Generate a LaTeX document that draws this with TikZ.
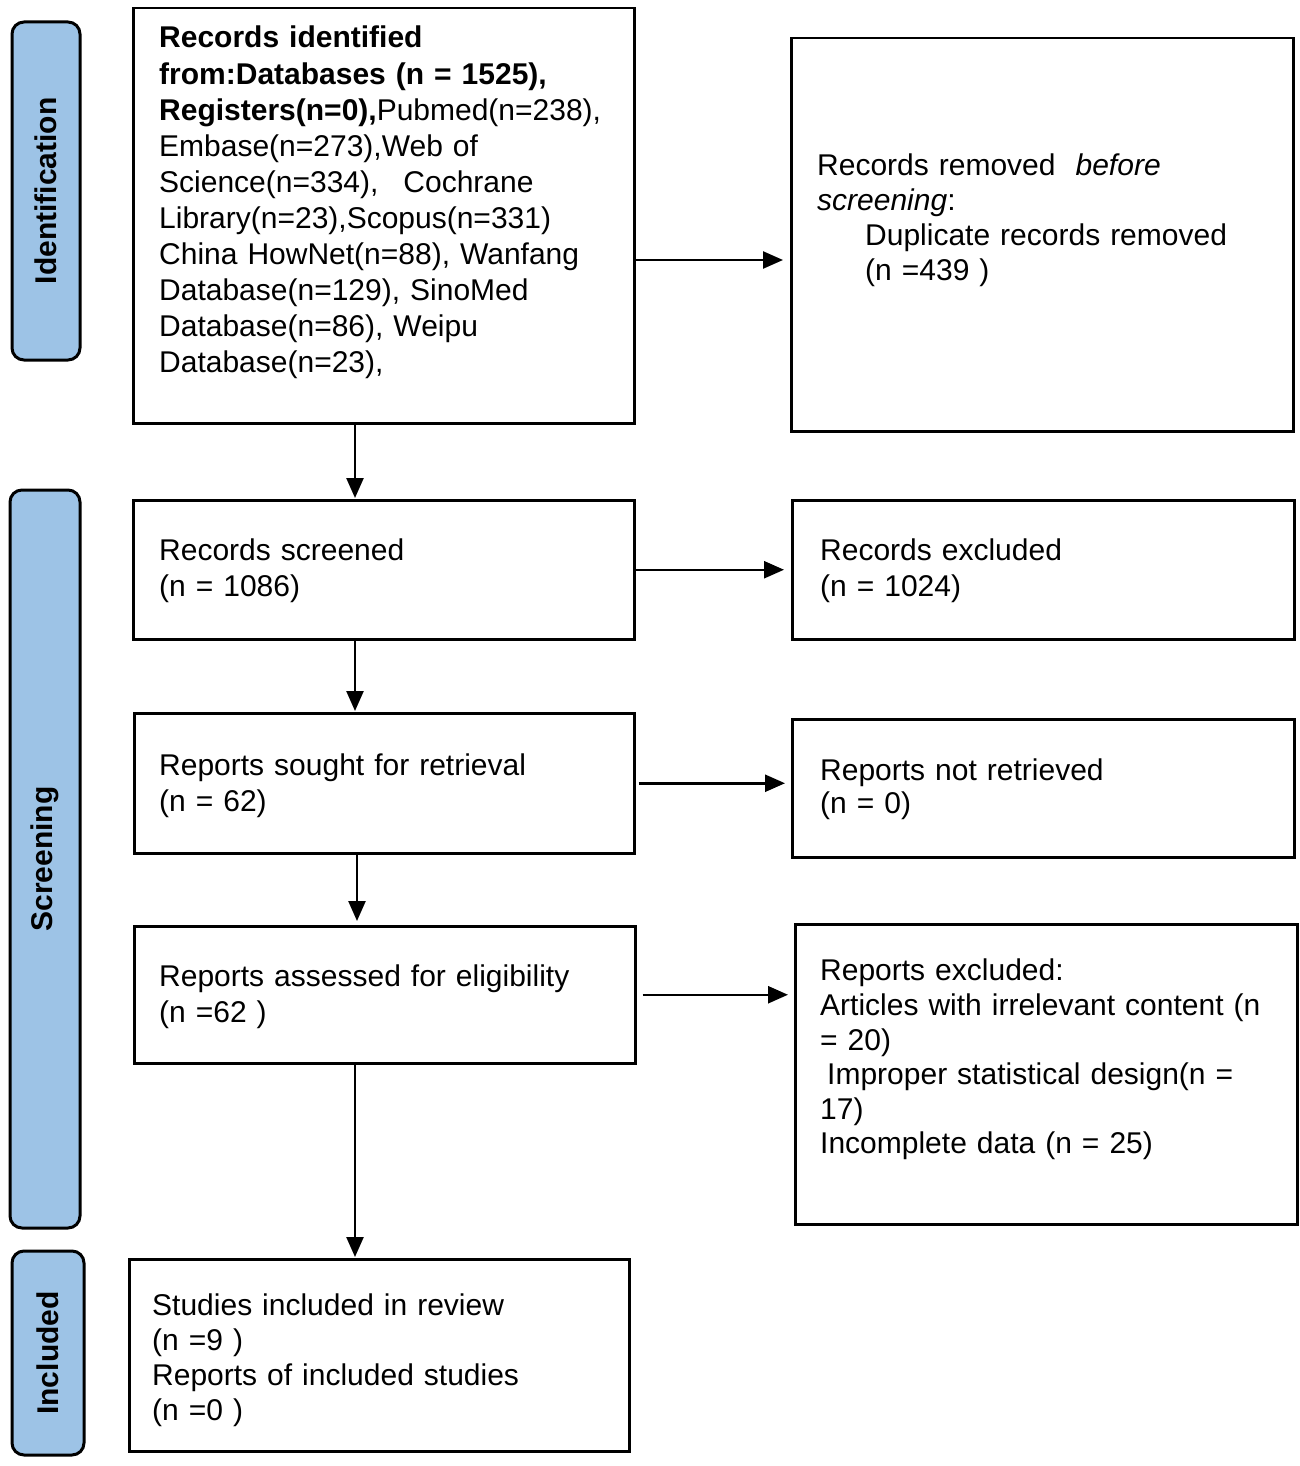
\documentclass[tikz,border=0pt]{standalone}
\usepackage{fontspec}
\setmainfont{Liberation Sans}
\usetikzlibrary{arrows.meta}
\definecolor{pill}{RGB}{157,195,230}
\begin{document}
\begin{tikzpicture}[x=1pt,y=-1pt,
  box/.style={draw=black, line width=2.5pt, anchor=north west, inner sep=0pt},
  pillbox/.style={draw=black, fill=pill, line width=3pt, rounded corners=12pt, rotate=90,
    font=\fontsize{30}{36}\selectfont\bfseries, inner sep=0pt},
  txt/.style={anchor=north west, inner sep=0pt, align=left, text width=640pt},
  arr/.style={line width=2.5pt, -{Triangle[length=20pt,width=17pt]}}]
\useasboundingbox (0,0) rectangle (1299,1466);

% phase labels
\node[pillbox, minimum width=338pt, minimum height=68pt] (pid) at (46,191) {Identification};
\node[pillbox, minimum width=738pt, minimum height=70pt] (psc) at (45,859) {Screening};
\node[pillbox, minimum width=204pt, minimum height=72pt] (pin) at (48,1353) {Included};

% boxes
\node[box, minimum width=501pt, minimum height=415pt] (b1) at (132,7) {};
\node[box, minimum width=502pt, minimum height=393pt] (r1) at (790,37) {};
\node[box, minimum width=501pt, minimum height=139pt] (b2) at (132,499) {};
\node[box, minimum width=502pt, minimum height=139pt] (r2) at (791,499) {};
\node[box, minimum width=500pt, minimum height=140pt] (b3) at (133,712) {};
\node[box, minimum width=502pt, minimum height=138pt] (r3) at (791,718) {};
\node[box, minimum width=501pt, minimum height=137pt] (b4) at (133,925) {};
\node[box, minimum width=502pt, minimum height=300pt] (r4) at (794,923) {};
\node[box, minimum width=500pt, minimum height=192pt] (b5) at (128,1258) {};

% texts
\node[txt, font=\fontsize{30}{36.1}\selectfont] (t1) at (159,22.5) {\strut\textbf{Records identified}\\
\textbf{from:Databases (n = 1525),}\\
\textbf{Registers(n=0),}Pubmed(n=238),\\
Embase(n=273),Web of\\
Science(n=334),\hspace{25pt}Cochrane\\
Library(n=23),Scopus(n=331)\\
China HowNet(n=88), Wanfang\\
Database(n=129), SinoMed\\
Database(n=86), Weipu\\
Database(n=23),};

\node[txt, font=\fontsize{30}{34.7}\selectfont] (tr1) at (817,151.5) {\strut Records removed \ \textit{before}\\
\textit{screening}:\\
\hspace*{48pt}Duplicate records removed\\
\hspace*{48pt}(n =439 )};

\node[txt, font=\fontsize{30}{36}\selectfont] (t2) at (159,535.5) {\strut Records screened\\(n = 1086)};
\node[txt, font=\fontsize{30}{36}\selectfont] (tr2) at (820,535.5) {\strut Records excluded\\(n = 1024)};

\node[txt, font=\fontsize{30}{36}\selectfont] (t3) at (159,750.5) {\strut Reports sought for retrieval\\(n = 62)};
\node[txt, font=\fontsize{30}{33}\selectfont] (tr3) at (820,757.6) {\strut Reports not retrieved\\(n = 0)};

\node[txt, font=\fontsize{30}{36}\selectfont] (t4) at (159,961.5) {\strut Reports assessed for eligibility\\(n =62 )};
\node[txt, font=\fontsize{30}{34.6}\selectfont] (tr4) at (820,956.5) {\strut Reports excluded:\\
Articles with irrelevant content (n\\
= 20)\\
\hspace*{7pt}Improper statistical design(n =\\
17)\\
Incomplete data (n = 25)};

\node[txt, font=\fontsize{30}{35}\selectfont] (t5) at (152,1290.3) {\strut Studies included in review\\
(n =9 )\\
Reports of included studies\\
(n =0 )};

% connectors
\coordinate (ya) at (0,260);
\coordinate (vx) at (355,0);
\coordinate (vy) at (357,0);
\draw[arr, shorten >=7pt] (b1.east |- ya) -- (r1.west |- ya);
\draw[arr, shorten >=7pt] (b2.east) -- (b2.east -| r2.west);
\draw[arr, shorten <=3pt, shorten >=6pt] (b3.east) -- (b3.east -| r3.west);
\draw[arr, shorten <=6pt, shorten >=6pt] (b4.east) -- (b4.east -| r4.west);
\draw[arr, shorten >=1pt] (b1.south -| vx) -- (b2.north -| vx);
\draw[arr, shorten >=1pt] (b2.south -| vx) -- (b3.north -| vx);
\draw[arr, shorten >=4pt] (b3.south -| vy) -- (b4.north -| vy);
\draw[arr, shorten >=1pt] (b4.south -| vx) -- (b5.north -| vx);
\end{tikzpicture}
\end{document}
